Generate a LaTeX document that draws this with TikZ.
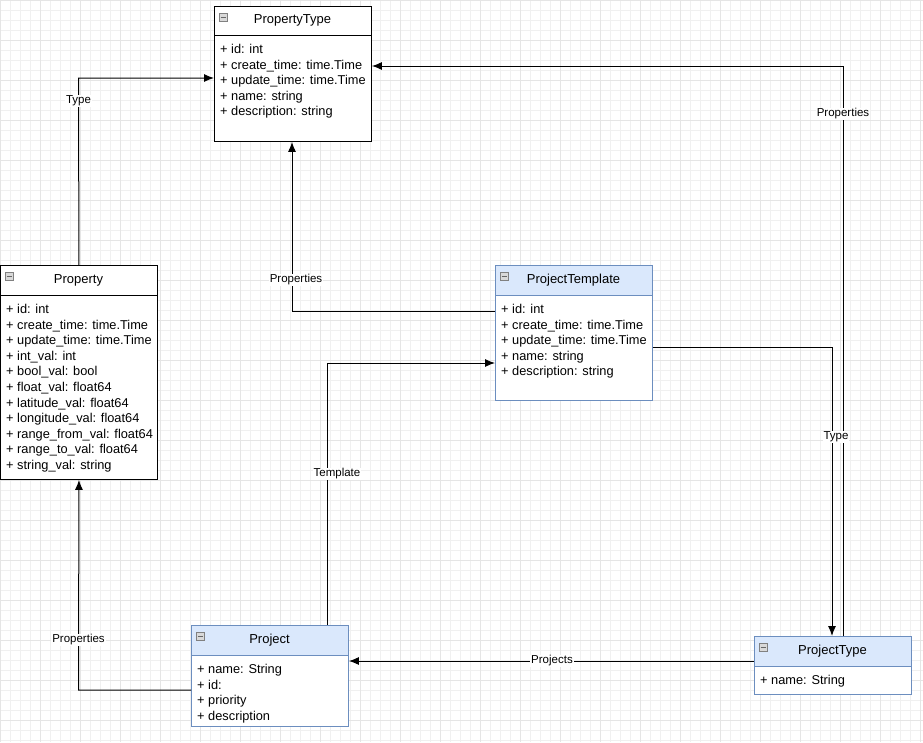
\documentclass[tikz,border=0pt]{standalone}
\usepackage{fontspec}
\setmainfont{Liberation Sans}
\usetikzlibrary{arrows.meta}
\definecolor{hdrblue}{HTML}{DAE8FC}
\definecolor{bdrblue}{HTML}{6C8EBF}
\tikzset{
  box/.style={draw=#1,line width=0.9pt,fill=white,anchor=north west,inner sep=0pt},
  conn/.style={line width=1pt,-{Latex[length=10pt,width=8pt]}},
  lbl/.style={fill=white,inner sep=1pt,font=\fontsize{11.5}{13}\selectfont},
  txt/.style={anchor=west,inner sep=0pt,font=\fontsize{13}{15}\selectfont},
}
\newcommand{\umlbox}[9]{%
  \node[box=#7,minimum width=#4pt,minimum height=#5pt] (#1) at (#2,#3) {};
  \fill[#8] (#2,#3) rectangle (#2+#4,#3+#6);
  \draw[#7,line width=0.9pt] (#2,#3) rectangle (#2+#4,#3+#5);
  \draw[#7,line width=0.9pt] (#2,#3+#6) -- (#2+#4,#3+#6);
  \draw[gray,fill=gray!30,line width=0.6pt] (#2+5,#3+7) rectangle (#2+13,#3+15);
  \draw[gray!80!black,line width=0.8pt] (#2+6.5,#3+11) -- (#2+11.5,#3+11);
  \node[txt,anchor=center] (#1-t) at (#2+#4/2,#3+#6/2) {#9};
}
\newcommand{\boxlines}[4]{%
  \begin{scope}
  \clip (#1,#2) rectangle (#1+#3-2,#2+200);
  \node[txt,anchor=north west,align=left,font=\fontsize{12.8}{15.6}\selectfont] at (#1+6,#2+9) {#4};
  \end{scope}
}
\begin{document}
\begin{tikzpicture}[x=1pt,y=-1pt]
\useasboundingbox (0,0) rectangle (923,742);
\fill[white] (0,0) rectangle (923,742);
\foreach \i in {0,10,...,920} \draw[black!6,line width=0.5pt] (\i,0) -- (\i,742);
\foreach \j in {0,10,...,740} \draw[black!6,line width=0.5pt] (0,\j) -- (923,\j);
\foreach \i in {0,40,...,920} \draw[black!10,line width=0.5pt] (\i,0) -- (\i,742);
\foreach \j in {0,40,...,740} \draw[black!10,line width=0.5pt] (0,\j) -- (923,\j);

\umlbox{pt}{214}{6}{157}{135}{29}{black}{white}{PropertyType}
\boxlines{214}{35}{157}{+ id: int\\+ create\_time: time.Time\\+ update\_time: time.Time\\+ name: string\\+ description: string}

\umlbox{prop}{0}{265}{157}{214}{30}{black}{white}{Property}
\boxlines{0}{295}{157}{+ id: int\\+ create\_time: time.Time\\+ update\_time: time.Time\\+ int\_val: int\\+ bool\_val: bool\\+ float\_val: float64\\+ latitude\_val: float64\\+ longitude\_val: float64\\+ range\_from\_val: float64\\+ range\_to\_val: float64\\+ string\_val: string}

\umlbox{tpl}{495}{265}{157}{135}{30}{bdrblue}{hdrblue}{ProjectTemplate}
\boxlines{495}{295}{157}{+ id: int\\+ create\_time: time.Time\\+ update\_time: time.Time\\+ name: string\\+ description: string}

\umlbox{proj}{191}{625}{157}{101}{30}{bdrblue}{hdrblue}{Project}
\boxlines{191}{655}{157}{+ name: String\\+ id:\\+ priority\\+ description}

\umlbox{ptype}{754}{636}{157}{58}{30}{bdrblue}{hdrblue}{ProjectType}
\boxlines{754}{666}{157}{+ name: String}

\coordinate (c1) at (78.5,78);
\coordinate (c2) at (292,311);
\coordinate (c3) at (843,66);
\coordinate (c4) at (327,363);
\coordinate (c5) at (832,347);
\coordinate (c6) at (78.5,690);

\draw[conn] (prop.north) -- (c1) -- (pt.west |- c1);
\node[lbl] at (78.5,101) {Type};
\draw[conn] (tpl.west |- c2) -- (c2) -- (pt.south -| c2);
\node[lbl] at (296,280) {Properties};
\draw[conn] (ptype.north -| c3) -- (c3) -- (pt.east |- c3);
\node[lbl] at (843,114) {Properties};
\draw[conn] (proj.north -| c4) -- (c4) -- (tpl.west |- c4);
\node[lbl] at (337,474) {Template};
\draw[conn] (tpl.east |- c5) -- (c5) -- (ptype.north -| c5);
\node[lbl] at (836,437) {Type};
\draw[conn] (ptype.west |- 0,661) -- (proj.east |- 0,661);
\node[lbl] at (552,661) {Projects};
\draw[conn] (proj.west |- c6) -- (c6) -- (prop.south);
\node[lbl] at (78.5,640) {Properties};
\end{tikzpicture}
\end{document}
